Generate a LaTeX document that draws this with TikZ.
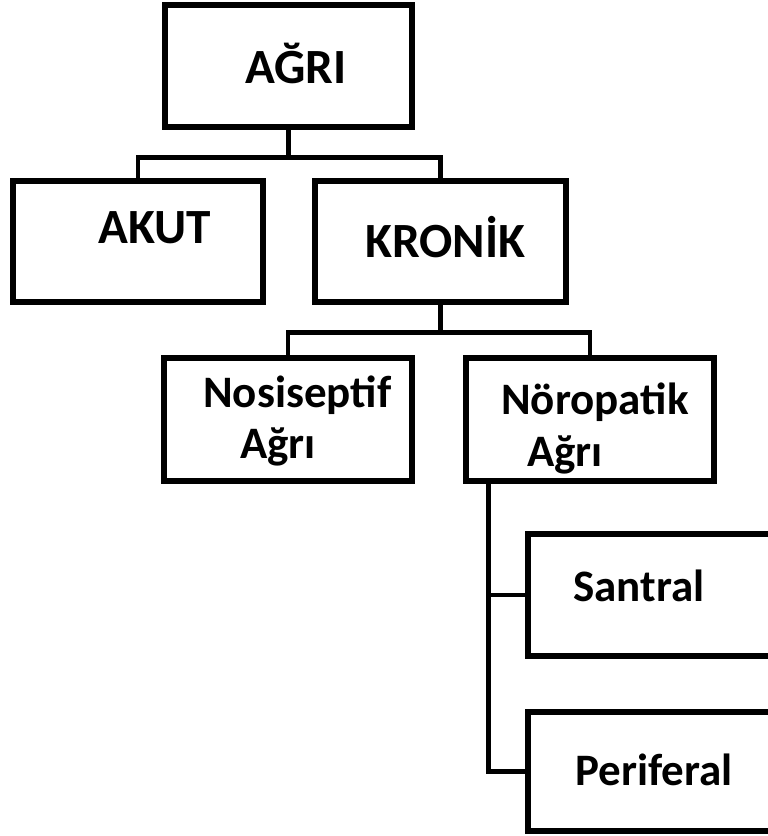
\documentclass[tikz,border=0pt]{standalone}
\usepackage{fontspec}
\setmainfont{Carlito}
\usetikzlibrary{calc,fit}

\begin{document}
\begin{tikzpicture}[x=0.025cm,y=-0.025cm,
  kutu/.style={draw=black, line width=3.8pt, inner sep=0pt, rectangle},
  baglanti/.style={draw=black, line width=3.1pt},
  yazi/.style={anchor=base west, inner sep=0pt, font=\fontsize{32}{36}\selectfont\bfseries},
  buyukyazi/.style={yazi, font=\fontsize{35}{40}\selectfont\bfseries}]
\clip (0,0) rectangle (768,836);
\fill[white] (0,0) rectangle (768,836);
% kutular
\node[kutu, fit={(165,5) (412,127)}] (agri) {};
\node[kutu, fit={(13,181) (263,302)}] (akut) {};
\node[kutu, fit={(315,181) (566,302)}] (kronik) {};
\node[kutu, fit={(164,358) (412,481)}] (nosi) {};
\node[kutu, fit={(466,358) (714,481)}] (noro) {};
\node[kutu, fit={(528,534) (800,656)}] (santral) {};
\node[kutu, fit={(528,712) (800,831)}] (periferal) {};
% yazilar
\node[buyukyazi] (t-agri) at (245,83) {AĞRI};
\node[buyukyazi] (t-akut) at (98,243) {AKUT};
\node[buyukyazi] (t-kronik) at (365,257) {KRONİK};
\node[yazi] (t-nosi1) at (203,407) {Nosiseptif};
\node[yazi] (t-nosi2) at (240,458) {Ağrı};
\node[yazi] (t-noro1) at (501,414) {Nöropatik};
\node[yazi] (t-noro2) at (527,466) {Ağrı};
\node[yazi] (t-santral) at (573,601) {Santral};
\node[yazi] (t-periferal) at (575,785) {Periferal};
% baglantilar
\coordinate (c1) at ($(agri.south)+(0,28)$);
\draw[baglanti] (agri.south) -- (c1);
\draw[baglanti] (c1) -| (akut.north);
\draw[baglanti] (c1) -| (kronik.north);
\coordinate (c2) at ($(kronik.south)+(0,28)$);
\draw[baglanti] (kronik.south) -- (c2);
\draw[baglanti] (c2) -| (nosi.north);
\draw[baglanti] (c2) -| (noro.north);
\coordinate (c3) at ($(noro.south west)+(25,0)$);
\draw[baglanti] (c3) |- (santral.west);
\draw[baglanti] (c3) |- (periferal.west);
\end{tikzpicture}
\end{document}
